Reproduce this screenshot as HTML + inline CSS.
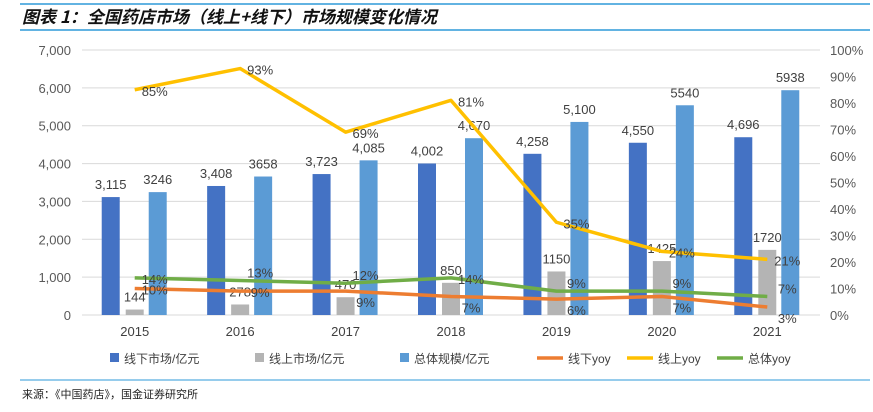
<!DOCTYPE html>
<html><head><meta charset="utf-8"><style>
body{margin:0;width:873px;height:407px;background:#fff;font-family:"Liberation Sans","Noto Sans CJK SC",sans-serif;overflow:hidden}
</style></head><body>
<svg width="873" height="407" xmlns="http://www.w3.org/2000/svg" font-family="Liberation Sans, Noto Sans CJK SC, sans-serif">
<line x1="20" y1="4" x2="870" y2="4" stroke="#2e9ad9" stroke-width="1.5"/>
<text x="22" y="23" font-size="17" font-weight="bold" font-style="italic" fill="#111" font-family="Noto Sans CJK SC, sans-serif">图表 1：全国药店市场（线上+线下）市场规模变化情况</text>
<line x1="20" y1="30" x2="870" y2="30" stroke="#2e9ad9" stroke-width="1.5"/>
<g id="plot"></g>
<g id="legend"></g>
<line x1="20" y1="380" x2="870" y2="380" stroke="#2e9ad9" stroke-width="1"/>
<text x="22" y="398" font-size="11" fill="#222" font-family="Noto Sans CJK SC, sans-serif">来源：《中国药店》，国金证券研究所</text>
</svg>
<script>
const years=["2015","2016","2017","2018","2019","2020","2021"];
const offline=[3115,3408,3723,4002,4258,4550,4696];
const online=[144,278,470,850,1150,1425,1720];
const total=[3246,3658,4085,4670,5100,5540,5938];
const totalLabels=["3246","3658","4,085","4,670","5,100","5540","5938"];
const offlineYoy=[10,9,9,7,6,7,3];
const onlineYoy=[85,93,69,81,35,24,21];
const totalYoy=[14,13,12,14,9,9,7];
const leftTicks=[0,1000,2000,3000,4000,5000,6000,7000];
const rightTicks=[0,10,20,30,40,50,60,70,80,90,100];
const NS="http://www.w3.org/2000/svg";
const g=document.getElementById('plot');
const X0=82,X1=820,Y0=315,Y1=50;
const step=(X1-X0)/years.length;
const xc=i=>X0+step*(i+0.5);
const yL=v=>Y0-(v/7000)*(Y0-Y1);
const yR=v=>Y0-(v/100)*(Y0-Y1);
function el(tag,attrs,parent){const e=document.createElementNS(NS,tag);for(const k in attrs)e.setAttribute(k,attrs[k]);(parent||g).appendChild(e);return e;}
function txt(s,attrs,parent){const e=el('text',attrs,parent);e.textContent=s;return e;}
leftTicks.forEach(t=>{
  const l=el('line',{x1:X0,x2:X1,y1:yL(t),y2:yL(t),stroke:'#d9d9d9','stroke-width':1});
  
  
  const tx=txt(t.toLocaleString('en-US'),{x:71,y:yL(t)+5,'text-anchor':'end','font-size':13,fill:'#595959'});
  
  
});
rightTicks.forEach(t=>{
  const tx=txt(t+'%',{x:830,y:yR(t)+5,'font-size':13,fill:'#595959'});
  
  
});
years.forEach((y,i)=>{
  const tx=txt(y,{x:xc(i),y:Y0+21,'text-anchor':'middle','font-size':13,fill:'#404040'});
  
  
});
const bw=18;
const barSeries=[[offline,-24,'#4472c4','bar-offline'],[online,0,'#b4b4b4','bar-online'],[total,23,'#5b9bd5','bar-total']];
barSeries.forEach(([arr,off,col,nm])=>{
  arr.forEach((v,i)=>{
    const x=xc(i)+off;
    const r=el('rect',{x:x-bw/2,y:yL(v),width:bw,height:Y0-yL(v),fill:col});
    
    
    const lab=nm==='bar-online'?String(v):(nm==='bar-offline'?v.toLocaleString('en-US'):totalLabels[i]);
    const t=txt(lab,{x:x,y:yL(v)-8,'text-anchor':'middle','font-size':13,fill:'#404040'});
    
    
  });
});
const lineSeries=[[offlineYoy,'#ed7d31','line-offline-yoy'],[onlineYoy,'#ffc000','line-online-yoy'],[totalYoy,'#70ad47','line-total-yoy']];
lineSeries.forEach(([arr,col,nm])=>{
  const d=arr.map((v,i)=>(i?'L':'M')+xc(i)+','+yR(v)).join(' ');
  const p=el('path',{d:d,fill:'none',stroke:col,'stroke-width':3.5,'stroke-linejoin':'round'});
  
  
  arr.forEach((v,i)=>{
    let dy=6;
    if(nm==='line-offline-yoy'&&i>=2)dy=16;
    if(nm==='line-total-yoy'&&i>=1&&i<=2)dy=-3;
    if(nm==='line-total-yoy'&&i>=4)dy=-3;
    const t=txt(v+'%',{x:xc(i)+20,y:yR(v)+dy,'text-anchor':'middle','font-size':13,fill:'#404040'});
    
    
  });
});
const lg=document.getElementById('legend');
const items=[['rect','#4472c4','线下市场/亿元',110],['rect','#b4b4b4','线上市场/亿元',255],['rect','#5b9bd5','总体规模/亿元',400],['line','#ed7d31','线下yoy',545],['line','#ffc000','线上yoy',635],['line','#70ad47','总体yoy',725]];
items.forEach(([k,c,s,x])=>{
  let m;
  if(k==='rect')m=el('rect',{x:x,y:353,width:9,height:9,fill:c},lg);
  else m=el('line',{x1:x-8,x2:x+18,y1:358,y2:358,stroke:c,'stroke-width':3.5},lg);
  
  
  const t=txt(s,{x:x+(k==='rect'?14:23),y:363,'font-size':12,fill:'#404040'},lg);
  
  
});
</script>
</body></html>
